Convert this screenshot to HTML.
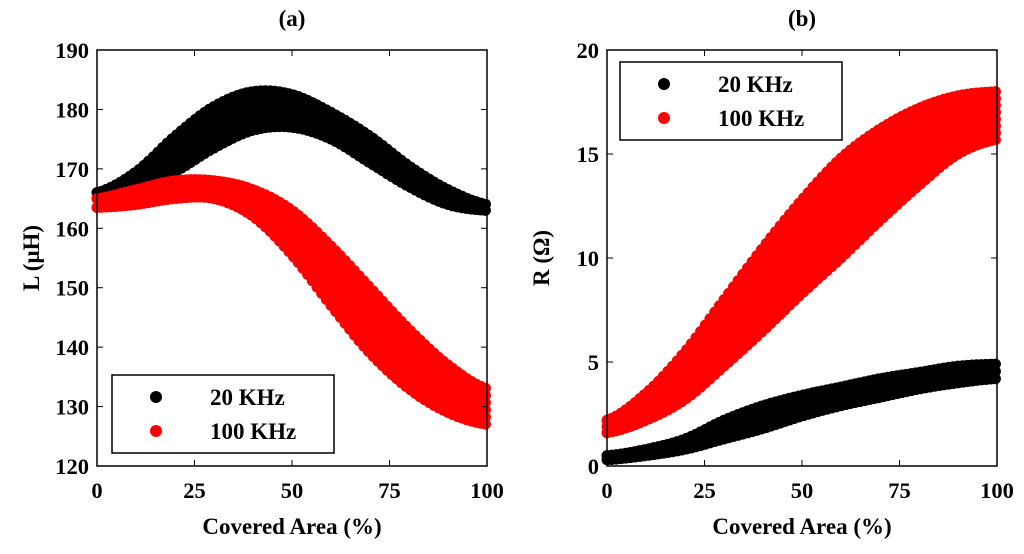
<!DOCTYPE html>
<html><head><meta charset="utf-8"><style>
body{margin:0;background:#fff}
svg text{font-family:"Liberation Serif",serif;font-weight:bold;fill:#000}
</style></head><body>
<svg width="1024" height="549" xmlns="http://www.w3.org/2000/svg">
<g id="pa"></g>
<g id="pb"></g>
</svg>
<script>
const xs=[0,10,20,30,40,50,60,70,80,90,100];
const aBlackLo=[165,166.5,169.5,173.5,176.5,177,175,171,167,164,163];
const aBlackHi=[166,169.5,175.5,180.5,183,182.5,179.5,175.5,170.5,166.5,164];
const aRedLo=[163.5,164,165,165,162,155.5,147,139,133,129,127];
const aRedHi=[165,166.5,168,168,166.5,163,157,150,143,137,133];
const bBlackLo=[0.3,0.5,0.8,1.3,1.8,2.4,2.9,3.3,3.7,4,4.2];
const bBlackHi=[0.5,0.8,1.3,2.2,2.9,3.4,3.8,4.2,4.5,4.8,4.9];
const bRedLo=[1.6,2.2,3.2,4.8,6.5,8.3,10,11.8,13.5,15,15.7];
const bRedHi=[2.2,3.5,5.5,8,10.5,12.8,14.8,16.2,17.2,17.8,18];
const xTicks=[0,25,50,75,100];
const aYTicks=[120,130,140,150,160,170,180,190];
const bYTicks=[0,5,10,15,20];
const NS='http://www.w3.org/2000/svg';
function mk(p,t,a){const e=document.createElementNS(NS,t);for(const k in a)e.setAttribute(k,a[k]);p.appendChild(e);return e;}
function interp(arr,x){const i=Math.min(Math.floor(x/10),9);const f=(x-xs[i])/10;
  const p0=arr[Math.max(i-1,0)],p1=arr[i],p2=arr[i+1],p3=arr[Math.min(i+2,10)];
  return 0.5*((2*p1)+(-p0+p2)*f+(2*p0-5*p1+4*p2-p3)*f*f+(-p0+3*p1-3*p2+p3)*f*f*f);}
function panel(g,x0,x1,y0,y1,ymin,ymax,yt,series,title,ylab,leg){
  const X=v=>x0+(v/100)*(x1-x0), Y=v=>y1-(v-ymin)/(ymax-ymin)*(y1-y0);
  series.forEach(s=>{
    const sg=mk(g,'g',{});
    
    
    for(let x=0;x<=100.01;x+=1.2){
      const xx=Math.min(x,100);
      const lo=interp(s.lo,xx),hi=interp(s.hi,xx);
      const n=Math.max(1,Math.round(Math.abs(Y(lo)-Y(hi))/7));
      for(let k=0;k<=n;k++){
        const v=lo+(hi-lo)*k/n;
        const c=mk(sg,'circle',{cx:X(xx),cy:Y(v),r:5.5,fill:s.color});
        
        
      }
    }
  });
  const fr=mk(g,'rect',{x:x0,y:y0,width:x1-x0,height:y1-y0,fill:'none',stroke:'#000','stroke-width':1.5});
  
  xTicks.forEach(t=>{
    mk(g,'line',{x1:X(t),x2:X(t),y1:y1,y2:y1-6,stroke:'#000'});mk(g,'line',{x1:X(t),x2:X(t),y1:y0,y2:y0+6,stroke:'#000'});
    const tx=mk(g,'text',{x:X(t),y:y1+32,'text-anchor':'middle','font-size':22.5});tx.textContent=t;
    
  });
  yt.forEach(t=>{
    mk(g,'line',{x1:x0,x2:x0+6,y1:Y(t),y2:Y(t),stroke:'#000'});mk(g,'line',{x1:x1,x2:x1-6,y1:Y(t),y2:Y(t),stroke:'#000'});
    const tx=mk(g,'text',{x:x0-8,y:Y(t)+8,'text-anchor':'end','font-size':22.5});tx.textContent=t;
    
  });
  const tt=mk(g,'text',{x:(x0+x1)/2,y:26,'text-anchor':'middle','font-size':23});tt.textContent=title;
  
  const xl=mk(g,'text',{x:(x0+x1)/2,y:534,'text-anchor':'middle','font-size':23});xl.textContent='Covered Area (%)';
  
  const yl=mk(g,'text',{x:0,y:0,'text-anchor':'middle','font-size':23,transform:`translate(${x0-58},${(y0+y1)/2}) rotate(-90)`});yl.textContent=ylab;
  
  const lg=mk(g,'g',{});
  mk(lg,'rect',{x:leg[0],y:leg[1],width:222,height:78,fill:'#fff',stroke:'#000','stroke-width':1.5});
  series.forEach((s,i)=>{
    const cy=leg[1]+22+i*34;
    mk(lg,'circle',{cx:leg[0]+44,cy:cy,r:6,fill:s.color});
    const t=mk(lg,'text',{x:leg[0]+98,y:cy+8,'font-size':23});t.textContent=s.label;
    
  });
}
panel(document.getElementById('pa'),97,487,50,466,120,190,aYTicks,
 [{name:'series-20khz',color:'#000',lo:aBlackLo,hi:aBlackHi,label:'20 KHz'},{name:'series-100khz',color:'#f00',lo:aRedLo,hi:aRedHi,label:'100 KHz'}],
 '(a)','L (\u03bcH)',[112,375]);
panel(document.getElementById('pb'),607,997,50,466,0,20,bYTicks,
 [{name:'series-20khz',color:'#000',lo:bBlackLo,hi:bBlackHi,label:'20 KHz'},{name:'series-100khz',color:'#f00',lo:bRedLo,hi:bRedHi,label:'100 KHz'}],
 '(b)','R (\u03a9)',[620,62]);
</script>
</body></html>
